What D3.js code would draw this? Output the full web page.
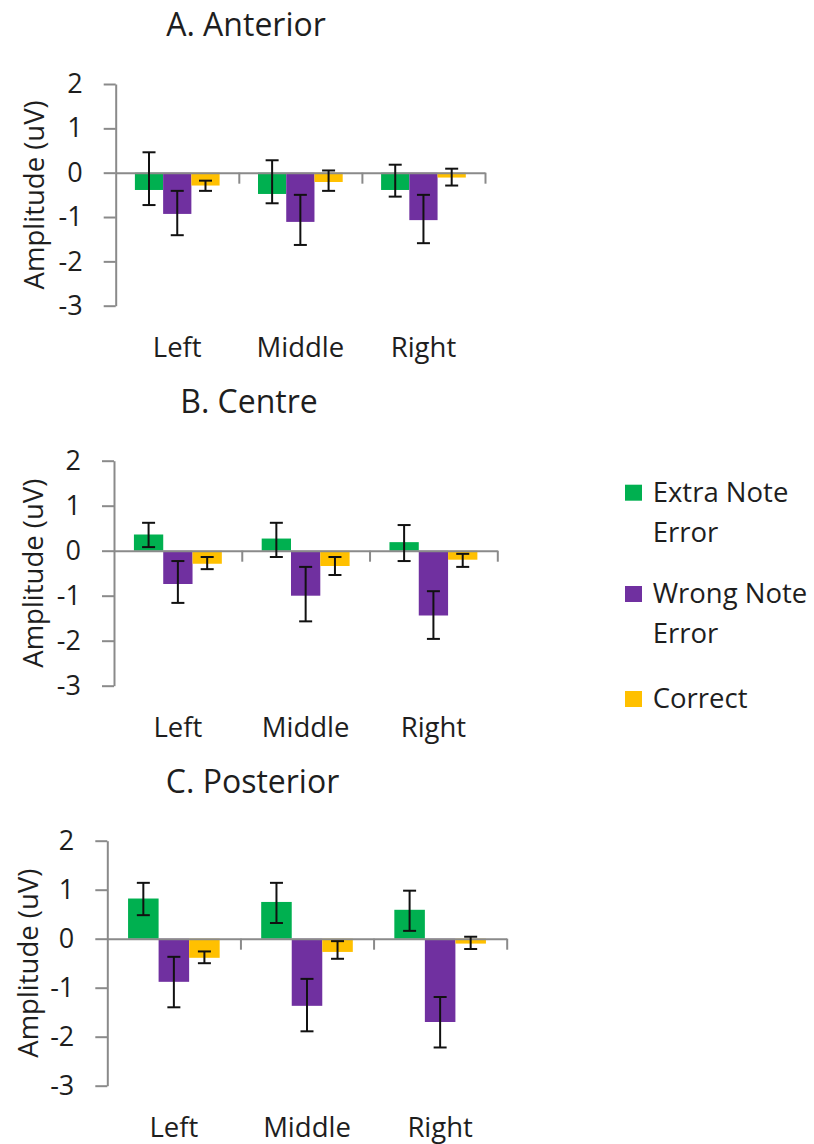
<!DOCTYPE html>
<html>
<head>
<meta charset="utf-8">
<script src="https://cdn.jsdelivr.net/npm/d3@7"></script>
<style>
  html, body { margin: 0; padding: 0; background: #fff; }
  svg { display: block; }
  text { font-family: "Open Sans", sans-serif; fill: #1e1e1e; }
</style>
</head>
<body>
<svg id="chart" width="814" height="1144"></svg>
<script>
// Electrode regions along the x axis
const categories = ["Left", "Middle", "Right"];
const seriesNames = ["Extra Note Error", "Wrong Note Error", "Correct"];
const seriesColors = ["#00B050", "#7030A0", "#FFC000"];
const yTicks = [-3, -2, -1, 0, 1, 2];

// A. Anterior: mean amplitude (uV) and error bar ends
const anteriorExtra = [-0.39, -0.48, -0.39];
const anteriorExtraHi = [0.46, 0.28, 0.18];
const anteriorExtraLo = [-0.73, -0.69, -0.54];
const anteriorWrong = [-0.93, -1.11, -1.07];
const anteriorWrongHi = [-0.41, -0.50, -0.50];
const anteriorWrongLo = [-1.41, -1.63, -1.59];
const anteriorCorrect = [-0.29, -0.21, -0.11];
const anteriorCorrectHi = [-0.18, 0.05, 0.09];
const anteriorCorrectLo = [-0.41, -0.41, -0.29];

// B. Centre
const centreExtra = [0.36, 0.27, 0.19];
const centreExtraHi = [0.62, 0.62, 0.57];
const centreExtraLo = [0.08, -0.14, -0.23];
const centreWrong = [-0.74, -1.00, -1.44];
const centreWrongHi = [-0.23, -0.36, -0.90];
const centreWrongLo = [-1.16, -1.57, -1.96];
const centreCorrect = [-0.29, -0.34, -0.20];
const centreCorrectHi = [-0.14, -0.14, -0.07];
const centreCorrectLo = [-0.41, -0.54, -0.36];

// C. Posterior
const posteriorExtra = [0.82, 0.75, 0.59];
const posteriorExtraHi = [1.14, 1.14, 0.98];
const posteriorExtraLo = [0.48, 0.32, 0.16];
const posteriorWrong = [-0.88, -1.37, -1.70];
const posteriorWrongHi = [-0.37, -0.82, -1.19];
const posteriorWrongLo = [-1.40, -1.89, -2.22];
const posteriorCorrect = [-0.39, -0.27, -0.10];
const posteriorCorrectHi = [-0.26, -0.05, 0.04];
const posteriorCorrectLo = [-0.50, -0.41, -0.21];

const panels = [
  {
    title: "A. Anterior",
    values: [anteriorExtra, anteriorWrong, anteriorCorrect],
    hi: [anteriorExtraHi, anteriorWrongHi, anteriorCorrectHi],
    lo: [anteriorExtraLo, anteriorWrongLo, anteriorCorrectLo],
    layout: { x0: 115.7, x1: 485, yTop: 84, yBot: 305.7, titleX: 246, labelX: 33 }
  },
  {
    title: "B. Centre",
    values: [centreExtra, centreWrong, centreCorrect],
    hi: [centreExtraHi, centreWrongHi, centreCorrectHi],
    lo: [centreExtraLo, centreWrongLo, centreCorrectLo],
    layout: { x0: 114, x1: 497.3, yTop: 460.7, yBot: 685.7, titleX: 249, labelX: 32 }
  },
  {
    title: "C. Posterior",
    values: [posteriorExtra, posteriorWrong, posteriorCorrect],
    hi: [posteriorExtraHi, posteriorWrongHi, posteriorCorrectHi],
    lo: [posteriorExtraLo, posteriorWrongLo, posteriorCorrectLo],
    layout: { x0: 107.3, x1: 506.7, yTop: 840.7, yBot: 1085.7, titleX: 252.5, labelX: 27 }
  }
];

const svg = d3.select("#chart");
const axisColor = "#8a8a8a";

panels.forEach(p => {
  const L = p.layout;
  const g = svg.append("g");

  const y = d3.scaleLinear().domain([-3, 2]).range([L.yBot, L.yTop]);
  const x = d3.scaleBand().domain(categories).range([L.x0, L.x1]).paddingInner(0).paddingOuter(0);
  const xs = d3.scaleBand().domain(d3.range(seriesNames.length))
    .range([0, x.bandwidth()]).paddingInner(0).paddingOuter(0.68);
  const xPos = d3.scaleLinear().domain([0, categories.length]).range([L.x0, L.x1]);

  // Bars
  p.values.forEach((vals, si) => {
    g.append("g").selectAll("rect")
      .data(vals)
      .join("rect")
      .attr("x", (d, i) => x(categories[i]) + xs(si))
      .attr("width", xs.bandwidth())
      .attr("y", d => y(Math.max(0, d)))
      .attr("height", d => Math.abs(y(d) - y(0)))
      .attr("fill", seriesColors[si]);
  });

  // Y axis
  const yAxis = g.append("g")
    .attr("transform", `translate(${L.x0},0)`)
    .call(d3.axisLeft(y).tickValues(yTicks).tickFormat(d => String(d)).tickSize(12).tickPadding(21).tickSizeOuter(0));
  yAxis.select(".domain").attr("stroke", axisColor).attr("stroke-width", 2);
  yAxis.selectAll(".tick line").attr("stroke", axisColor).attr("stroke-width", 2);
  yAxis.selectAll(".tick text").attr("font-size", 27).attr("fill", "#1e1e1e")
    .attr("font-family", "'Open Sans', sans-serif");

  // Category axis along zero
  const xAxis = g.append("g")
    .attr("transform", `translate(0,${y(0)})`)
    .call(d3.axisBottom(xPos).tickValues(d3.range(1, categories.length + 1)).tickFormat("").tickSize(11).tickSizeOuter(0));
  xAxis.select(".domain").attr("stroke", axisColor).attr("stroke-width", 2);
  xAxis.selectAll(".tick line").attr("stroke", axisColor).attr("stroke-width", 2);

  // Error bars
  const capW = 13;
  p.values.forEach((vals, si) => {
    const eg = g.append("g").attr("stroke", "#111").attr("stroke-width", 2);
    vals.forEach((v, i) => {
      const cx = x(categories[i]) + xs(si) + xs.bandwidth() / 2;
      const yh = y(p.hi[si][i]);
      const yl = y(p.lo[si][i]);
      eg.append("line").attr("x1", cx).attr("x2", cx).attr("y1", yh).attr("y2", yl);
      eg.append("line").attr("x1", cx - capW / 2).attr("x2", cx + capW / 2).attr("y1", yh).attr("y2", yh);
      eg.append("line").attr("x1", cx - capW / 2).attr("x2", cx + capW / 2).attr("y1", yl).attr("y2", yl);
    });
  });

  // Category labels
  g.append("g").selectAll("text")
    .data(categories)
    .join("text")
    .attr("x", d => x(d) + x.bandwidth() / 2)
    .attr("y", L.yBot + 51)
    .attr("text-anchor", "middle")
    .attr("font-size", 27.5)
    .text(d => d);

  // Y axis title
  g.append("text")
    .attr("transform", `translate(${L.labelX},${(L.yTop + L.yBot) / 2}) rotate(-90)`)
    .attr("text-anchor", "middle")
    .attr("dominant-baseline", "central")
    .attr("font-size", 27.5)
    .text("Amplitude (uV)");

  // Panel title
  g.append("text")
    .attr("x", L.titleX)
    .attr("y", L.yTop - 48)
    .attr("text-anchor", "middle")
    .attr("font-size", 32)
    .text(p.title);
});

// Legend
const legendItems = [
  { lines: ["Extra Note", "Error"], y: 501.7 },
  { lines: ["Wrong Note", "Error"], y: 603 },
  { lines: ["Correct"], y: 708 }
];
const legend = svg.append("g");
legendItems.forEach((item, i) => {
  legend.append("rect")
    .attr("x", 625).attr("y", item.y - 17)
    .attr("width", 17).attr("height", 16)
    .attr("fill", seriesColors[i]);
  const t = legend.append("text")
    .attr("x", 652.7).attr("y", item.y)
    .attr("font-size", 27.5);
  item.lines.forEach((ln, j) => {
    t.append("tspan").attr("x", 652.7).attr("dy", j === 0 ? 0 : 40).text(ln);
  });
});
</script>
</body>
</html>
